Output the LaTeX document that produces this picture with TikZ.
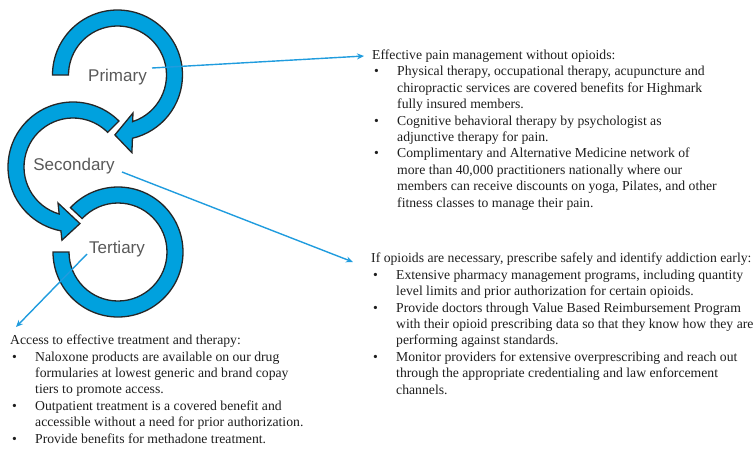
\documentclass[tikz,border=0pt]{standalone}
\usepackage{fontspec}
\setmainfont{Liberation Serif}
\newfontfamily\labelfont{Liberation Sans}
\usetikzlibrary{arrows.meta}
\definecolor{ringblue}{RGB}{0,161,222}
\definecolor{linkblue}{RGB}{32,156,222}
\definecolor{labelgray}{RGB}{89,89,89}
\definecolor{bodytext}{RGB}{30,30,30}
\newcommand\bitem[1]{\makebox[25pt][l]{\hspace{2pt}\textbullet}#1}
\newcommand\cont[1]{\hspace*{25pt}#1}
\begin{document}
\begin{tikzpicture}[x=1pt,y=1pt,
  ring/.style={fill=ringblue,draw=black!85,line width=1.3pt,line join=miter},
  stagelabel/.style={font=\labelfont\fontsize{17}{20}\selectfont,text=labelgray,inner sep=0pt},
  bodyblock/.style={font=\fontsize{13.7}{16.4}\selectfont,text=bodytext,align=left,inner sep=0pt,anchor=base west},
  link/.style={draw=linkblue,line width=1.4pt,-{Stealth[length=7pt,width=6pt]}}]
\useasboundingbox (0,0) rectangle (756,-448);
% Primary ring
\begin{scope}[shift={(117.5,-75)}]
\draw[ring] (180:65) arc[start angle=180,end angle=-76.7,radius=65]
  -- (-79.5:79) -- (-92.5:60) -- (-67.8:41) -- (-72:49)
  arc[start angle=-72,end angle=180,radius=49] -- cycle;
\end{scope}
% Secondary ring
\begin{scope}[shift={(73,-167)}]
\draw[ring] (45:65) arc[start angle=45,end angle=259.3,radius=65]
  -- (261.4:74) -- (277:57) -- (247.4:39) -- (253.6:49)
  arc[start angle=253.6,end angle=45,radius=49] -- cycle;
\end{scope}
% Tertiary ring
\begin{scope}[shift={(118,-252)}]
\draw[ring] (137:65) arc[start angle=137,end angle=-180,radius=65]
  -- (-180:49) arc[start angle=-180,end angle=137,radius=49] -- cycle;
\end{scope}
% labels
\node[stagelabel] (prim) at (117.5,-77) {Primary};
\node[stagelabel] (sec) at (74,-166) {Secondary};
\node[stagelabel] (ter) at (117,-249) {Tertiary};
% text blocks (anchored at the baseline of their last line)
\node[bodyblock] (b1) at (372,-207) {Effective pain management without opioids:\\
\bitem{Physical therapy, occupational therapy, acupuncture and}\\
\cont{chiropractic services are covered benefits for Highmark}\\
\cont{fully insured members.}\\
\bitem{Cognitive behavioral therapy by psychologist as}\\
\cont{adjunctive therapy for pain.}\\
\bitem{Complimentary and Alternative Medicine network of}\\
\cont{more than 40,000 practitioners nationally where our}\\
\cont{members can receive discounts on yoga, Pilates, and other}\\
\cont{fitness classes to manage their pain.}};
\node[bodyblock] (b2) at (371,-394) {If opioids are necessary, prescribe safely and identify addiction early:\\
\bitem{Extensive pharmacy management programs, including quantity}\\
\cont{level limits and prior authorization for certain opioids.}\\
\bitem{Provide doctors through Value Based Reimbursement Program}\\
\cont{with their opioid prescribing data so that they know how they are}\\
\cont{performing against standards.}\\
\bitem{Monitor providers for extensive overprescribing and reach out}\\
\cont{through the appropriate credentialing and law enforcement}\\
\cont{channels.}};
\node[bodyblock] (b3) at (10,-443) {Access to effective treatment and therapy:\\
\bitem{Naloxone products are available on our drug}\\
\cont{formularies at lowest generic and brand copay}\\
\cont{tiers to promote access.}\\
\bitem{Outpatient treatment is a covered benefit and}\\
\cont{accessible without a need for prior authorization.}\\
\bitem{Provide benefits for methadone treatment.}};
% connectors
\coordinate (p1s) at (152,-68);
\coordinate (p1e) at (364,-56);
\coordinate (p2s) at (122,-172);
\coordinate (p2e) at (353,-262);
\coordinate (p3s) at (87,-254);
\coordinate (p3e) at (16,-327);
\draw[link] (p1s) -- (p1e);
\draw[link] (p2s) -- (p2e);
\draw[link] (p3s) -- (p3e);
\end{tikzpicture}
\end{document}
